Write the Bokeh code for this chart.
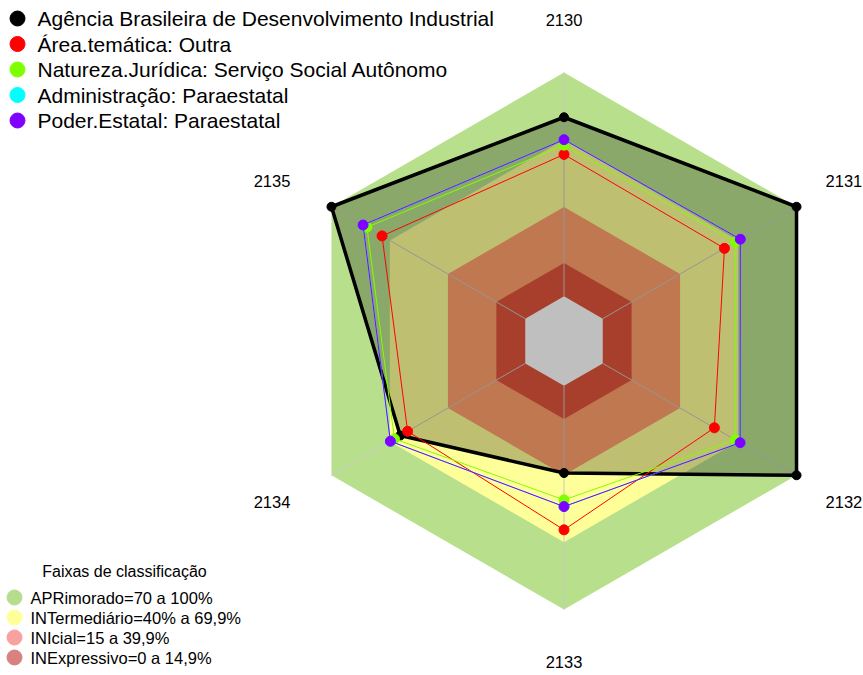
import numpy as np
from bokeh.plotting import figure
from bokeh.models import Range1d
from bokeh.embed import file_html
from bokeh.resources import INLINE
from bokeh.core.properties import value

# ---------------- data ----------------
axis_labels = ["2130", "2131", "2132", "2133", "2134", "2135"]

series_names = [
    "Agência Brasileira de Desenvolvimento Industrial",
    "Área.temática: Outra",
    "Natureza.Jurídica: Serviço Social Autônomo",
    "Administração: Paraestatal",
    "Poder.Estatal: Paraestatal",
]
series_colors = ["#000000", "#ff0000", "#80ff00", "#00ffff", "#8000ff"]

agencia = [80, 100, 100, 39, 64.5, 100]
area_tematica = [63.4, 62.8, 57.6, 64.4, 60.7, 73.9]
natureza_juridica = [67.5, 68.4, 68.4, 51, 67.5, 81.7]
administracao = [70, 71, 70.9, 54, 69.6, 83.7]
poder_estatal = [70, 71, 70.9, 54, 69.6, 83.7]
series_values = [agencia, area_tematica, natureza_juridica, administracao, poder_estatal]

band_title = "Faixas de classificação"
band_names = [
    "APRimorado=70 a 100%",
    "INTermediário=40% a 69,9%",
    "INIcial=15 a 39,9%",
    "INExpressivo=0 a 14,9%",
]
band_upper = [100, 69.9, 39.9, 14.9]
band_fill = ["#b8e08c", "#ffff99", "#ffa06b", "#e0553b"]
band_legend_colors = ["#b5dd8b", "#ffff99", "#f9a0a0", "#d98080"]

r_min, r_max = -20, 100

# ---------------- layout ----------------
W, H = 863, 675
FONT = "Liberation Sans"

def sy(y):  # screen y -> data y
    return H - y

p = figure(width=W, height=H, x_range=Range1d(0, W), y_range=Range1d(0, H),
           output_backend="svg", toolbar_location=None, min_border=0)
p.axis.visible = False
p.grid.visible = False
p.outline_line_color = None
p.background_fill_color = "white"

cx, cy = 563.5, sy(340.5)
R = 268.5
k = R / (r_max - r_min)
n = len(axis_labels)
ang = np.deg2rad(90 - 360.0 / n * np.arange(n))

def polar(vals):
    r = (np.asarray(vals, dtype=float) - r_min) * k
    return cx + r * np.cos(ang), cy + r * np.sin(ang)

# bands
bxs, bys = [], []
for u in band_upper:
    x, y = polar([u] * n)
    bxs.append(list(x)); bys.append(list(y))
p.patches(bxs, bys, fill_color=band_fill, line_color=None)
hx, hy = polar([0] * n)
p.patch(list(hx), list(hy), fill_color="white", line_color=None)

# spokes
x0, y0 = polar([0] * n)
x1, y1 = polar([r_max] * n)
p.segment(x0, y0, x1, y1, line_color="#c8c8c8", line_width=1)

# series
for i, (vals, col) in enumerate(zip(series_values, series_colors)):
    x, y = polar(vals)
    if i == 0:
        p.patch(list(x), list(y), fill_color="black", fill_alpha=0.25,
                line_color="black", line_width=3.5, line_join="round")
        p.scatter(x, y, size=9, fill_color=col, line_color=col)
    else:
        p.line(list(x) + [x[0]], list(y) + [y[0]], line_color=col, line_width=1)
        p.scatter(x, y, size=10, fill_color=col, line_color=col)

# axis labels
lx, ly, la = [], [], []
for a in ang:
    c = np.cos(a)
    if abs(c) < 1e-6:
        lx.append(cx); la.append("center")
    elif c > 0:
        lx.append(cx + 302 * c); la.append("left")
    else:
        lx.append(cx + 316 * c); la.append("right")
    ly.append(cy + 321 * np.sin(a))
p.text(lx, ly, text=axis_labels, text_align=la, text_baseline="middle",
       text_font=value(FONT), text_font_size="16.5px", text_color="#000000")

# top legend
ty = [sy(18 + 25.5 * i) for i in range(len(series_names))]
p.scatter([17] * len(ty), ty, size=15, fill_color=series_colors, line_color=series_colors)
p.text([37] * len(ty), ty, text=series_names, text_baseline="middle",
       text_font=value(FONT), text_font_size="21px", text_color="#000000")

# band legend
p.text([124], [sy(571)], text=[band_title], text_align="center", text_baseline="middle",
       text_font=value(FONT), text_font_size="16px", text_color="#000000")
by = [sy(597 + 20 * i) for i in range(len(band_names))]
p.scatter([14] * len(by), by, size=15, fill_color=band_legend_colors, line_color=band_legend_colors)
p.text([30] * len(by), by, text=band_names, text_baseline="middle",
       text_font=value(FONT), text_font_size="16.5px", text_color="#000000")

open("out.html", "w").write(file_html(p, INLINE))
